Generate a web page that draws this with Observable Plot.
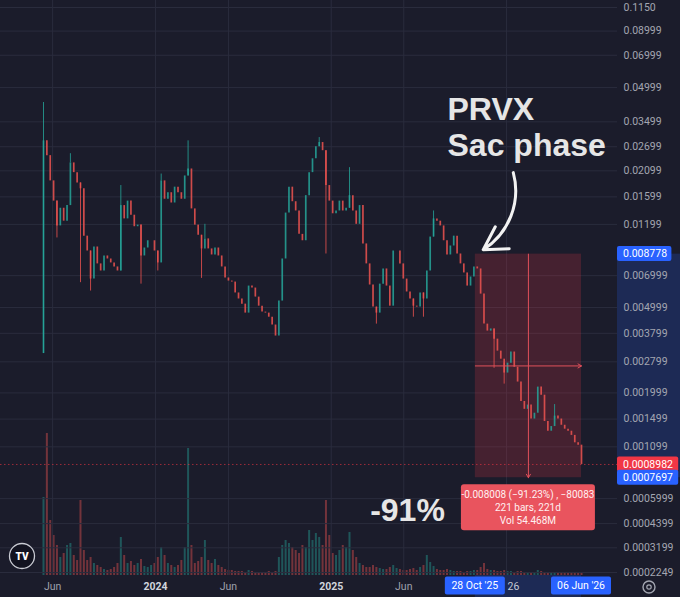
<!DOCTYPE html>
<html><head><meta charset="utf-8">
<script src="https://cdn.jsdelivr.net/npm/d3@7"></script>
<script src="https://cdn.jsdelivr.net/npm/@observablehq/plot@0.6"></script>
<style>
html,body{margin:0;padding:0;background:#1b1c2b;}
#chart{position:relative;width:680px;height:597px;overflow:hidden;background:#1b1c2b;}
#chart svg{position:absolute;left:0;top:0;}
</style></head><body>
<div id="chart"></div>
<script>
// ---------- data (weekly bars) ----------
const startDate = "2023-05-13";
const endDate = "2026-06-06";
const firstOpen = 0.00306;
const closes = [
0.0287, 0.0246, 0.0189, 0.0153, 0.0118, 0.0142, 0.0124, 0.0146, 0.0228, 0.0206,
0.0185, 0.0174, 0.0106, 0.00907, 0.00675, 0.00946, 0.00792, 0.00735, 0.00861, 0.00834,
0.0080, 0.00767, 0.00735, 0.0146, 0.0127, 0.0153, 0.0132, 0.0117, 0.0119, 0.00861,
0.00936, 0.0101, 0.0101, 0.00907, 0.0080, 0.0189, 0.0156, 0.0167, 0.0150, 0.0177,
0.0167, 0.0156, 0.0199, 0.0214, 0.0141, 0.0119, 0.0107, 0.00927, 0.0103, 0.00927,
0.0087, 0.00936, 0.00861, 0.00767, 0.00683, 0.00661, 0.00654, 0.00583, 0.00547, 0.00518,
0.00471, 0.00627, 0.00614, 0.00558, 0.00507, 0.00476, 0.00471, 0.00451, 0.00415, 0.00369,
0.00535, 0.00834, 0.0135, 0.0177, 0.0152, 0.0138, 0.0108, 0.0101, 0.0162, 0.0206,
0.0238, 0.0270, 0.0282, 0.0259, 0.0180, 0.0153, 0.0134, 0.0138, 0.0153, 0.0138,
0.0142, 0.0162, 0.0138, 0.0120, 0.0146, 0.00977, 0.00792, 0.00634, 0.00502, 0.00471,
0.0064, 0.00751, 0.00627, 0.00507, 0.00907, 0.00907, 0.00792, 0.00675, 0.00589, 0.00547,
0.00507, 0.00502, 0.00583, 0.00547, 0.00735, 0.0105, 0.0127, 0.0124, 0.0118, 0.0101,
0.0087, 0.00956, 0.0106, 0.00879, 0.00792, 0.0072, 0.00627, 0.0069, 0.00767, 0.00751,
0.00576, 0.00419, 0.00389, 0.00398, 0.00357, 0.00314, 0.00288, 0.00248, 0.00276, 0.00311,
0.00264, 0.00225, 0.00182, 0.00167, 0.00175, 0.00150, 0.0016, 0.00213, 0.00195, 0.00146,
0.00131, 0.00138, 0.00155, 0.00150, 0.0014, 0.00134, 0.00131, 0.00125, 0.00115, 0.00112,
0.0008982
];
const volumes = [
78, 142, 55, 40, 30, 18, 22, 30, 32, 20,
15, 75, 25, 15, 18, 12, 10, 8, 6, 5,
6, 8, 12, 38, 20, 12, 14, 10, 12, 16,
9, 8, 10, 12, 18, 28, 20, 12, 10, 8,
10, 15, 28, 127, 30, 12, 14, 18, 35, 15,
12, 16, 10, 8, 6, 5, 5, 4, 4, 4,
3, 5, 4, 3, 3, 3, 3, 4, 3, 4,
18, 30, 35, 32, 28, 25, 22, 30, 28, 45,
35, 42, 38, 30, 75, 40, 22, 20, 25, 30,
28, 43, 25, 18, 12, 10, 8, 8, 10, 8,
7, 6, 6, 8, 10, 7, 6, 5, 5, 6,
7, 5, 8, 10, 20, 13, 9, 6, 5, 5,
6, 5, 4, 4, 4, 3, 4, 4, 5, 5,
8, 12, 6, 5, 5, 4, 4, 5, 4, 4,
3, 4, 4, 3, 3, 3, 3, 5, 4, 3,
3, 3, 3, 2, 2, 2, 2, 2, 2, 2,
3
];
const wickIdx = [0, 4, 8, 11, 14, 23, 29, 34, 35, 43, 47, 48, 82, 84, 91, 99, 110, 113, 116, 134, 137, 152];
const wickHi  = [0.0428, 0.0153, 0.0251, 0.0185, 0.00907, 0.0180, 0.0119, 0.00907, 0.0203, 0.0287, 0.0107, 0.0120, 0.0297, 0.0259, 0.0217, 0.00502, 0.00547, 0.00583, 0.0138, 0.00398, 0.00276, 0.00176];
const wickLo  = [0.00306, 0.0104, 0.0228, 0.0065, 0.00595, 0.00735, 0.0064, 0.00735, 0.0189, 0.0199, 0.0068, 0.0103, 0.0270, 0.00879, 0.0142, 0.00419, 0.00451, 0.00451, 0.0105, 0.00261, 0.0022, 0.0015];

const priceTicks = [0.1150, 0.08999, 0.06999, 0.04999, 0.03499, 0.02699, 0.02099, 0.01599, 0.01199, 0.006999, 0.004999, 0.003799, 0.002799, 0.001999, 0.001499, 0.001099, 0.0005999, 0.0004399, 0.0003199, 0.0002249];
const priceTickLabels = ["0.1150", "0.08999", "0.06999", "0.04999", "0.03499", "0.02699", "0.02099", "0.01599", "0.01199", "0.006999", "0.004999", "0.003799", "0.002799", "0.001999", "0.001499", "0.001099", "0.0005999", "0.0004399", "0.0003199", "0.0002249"];
const monthTicks = ["2023-06-01", "2024-06-01", "2025-06-01"];
const monthTickLabels = ["Jun", "Jun", "Jun"];
const yearTicks = ["2024-01-01", "2025-01-01"];
const yearTickLabels = ["2024", "2025"];
const partialYearTick = "2026-01-01";
const partialYearLabel = "26"; // only the visible tail of "2026" shows past the date flag

const measureStart = "2025-10-28";
const measureEnd = "2026-06-06";
const measureFrom = 0.008778;
const measureTo = 0.0007697;
const measureLines = ["-0.008008 (\u221291.23%) , \u221280083", "221 bars, 221d", "Vol 54.468M"];
const dateFlags = ["28 Oct '25", "06 Jun '26"];
const lastPrice = 0.0008982;
const flagPrices = [0.008778, 0.0008982, 0.0007697];
const flagLabels = ["0.008778", "0.0008982", "0.0007697"];
const flagColors = ["#2962ff", "#f23645", "#2962ff"];
const titleLines = ["PRVX", "Sac phase"];
const pctLabel = "-91%";
const arrowFromDate = "2026-01-15";
const arrowFromPrice = 0.0206;

// ---------- derived tables ----------
const teal = "#26a69a", red = "#ef5350";
const t0 = new Date(startDate);
const bars = closes.map((c, i) => {
  const open = i === 0 ? firstOpen : closes[i - 1];
  return {date: d3.utcDay.offset(t0, 7 * i), open, close: c, vol: volumes[i], up: c >= open};
});
const wicks = wickIdx.map((k, j) => ({date: bars[k].date, hi: wickHi[j], lo: wickLo[j], up: bars[k].up}));
const priceLabelMap = new Map(priceTicks.map((p, i) => [p, priceTickLabels[i]]));
const mDates = monthTicks.map(d => new Date(d));
const yDates = yearTicks.map(d => new Date(d));
const pDate = new Date(partialYearTick);
const monthMap = new Map(mDates.map((d, i) => [+d, monthTickLabels[i]]));
const yearMap = new Map(yDates.map((d, i) => [+d, yearTickLabels[i]]));
const gridDates = [...mDates, ...yDates, pDate];
const mStart = new Date(measureStart), mEnd = new Date(measureEnd);
const mMid = new Date((+mStart + +mEnd) / 2);
const C = 0.0001;
const midPrice = C * (Math.exp((Math.log1p(measureFrom / C) + Math.log1p(measureTo / C)) / 2) - 1);
const measure = [{start: mStart, end: mEnd, mid: mMid, from: measureFrom, to: measureTo, midPrice}];

const W = 680, H = 597, MR = 63, MB = 22;
const xScale = {type: "utc", domain: [new Date(startDate), new Date(endDate)], range: [43, 581]};
const font = "Roboto, 'Liberation Sans', Arial, sans-serif";

// ---------- custom layers using Plot scales ----------
const priceBand = (index, scales, values, dim) => {
  const g = d3.create("svg:g");
  const x0 = dim.width - dim.marginRight;
  const ya = scales.y(measureFrom), yb = scales.y(measureTo);
  g.append("rect").attr("x", x0).attr("y", ya).attr("width", dim.width - x0).attr("height", yb - ya)
    .attr("fill", "#2962ff").attr("fill-opacity", 0.2);
  return g.node();
};
const timeBand = (index, scales, values, dim) => {
  const g = d3.create("svg:g");
  const xa = scales.x(mStart), xb = scales.x(mEnd);
  const y0 = dim.height - dim.marginBottom;
  g.append("rect").attr("x", xa).attr("y", y0).attr("width", xb - xa).attr("height", dim.marginBottom)
    .attr("fill", "#2962ff").attr("fill-opacity", 0.2);
  return g.node();
};
const flags = (index, scales, values, dim) => {
  const g = d3.create("svg:g").attr("font-family", font).attr("font-size", 10.5);
  const x0 = dim.width - dim.marginRight;
  flagPrices.forEach((p, i) => {
    const y = scales.y(p);
    const w = flagLabels[i].length * 6.8;
    g.append("rect").attr("x", x0).attr("y", y - 7.5).attr("width", w).attr("height", 15).attr("rx", 2).attr("fill", flagColors[i]);
    g.append("text").attr("x", x0 + 6).attr("y", y).attr("dy", "0.35em").attr("text-anchor", "start").attr("fill", "#ffffff").text(flagLabels[i]);
  });
  const y0 = dim.height - dim.marginBottom;
  [mStart, mEnd].forEach((d, i) => {
    const x = scales.x(d);
    g.append("rect").attr("x", x - 30).attr("y", y0 + 1.5).attr("width", 60).attr("height", 18).attr("rx", 2).attr("fill", "#2962ff");
    g.append("text").attr("x", x).attr("y", y0 + 10.5).attr("dy", "0.35em").attr("text-anchor", "middle").attr("fill", "#ffffff").text(dateFlags[i]);
  });
  return g.node();
};
const infoBox = (index, scales, values, dim) => {
  const g = d3.create("svg:g").attr("font-family", font).attr("font-size", 10);
  const cx = scales.x(mMid), top = scales.y(measureTo) + 7;
  g.append("rect").attr("x", cx - 67).attr("y", top).attr("width", 134).attr("height", 46).attr("rx", 3)
    .attr("fill", "#e9545e");
  measureLines.forEach((t, i) => {
    g.append("text").attr("x", cx).attr("y", top + 10 + 13 * i).attr("dy", "0.35em").attr("text-anchor", "middle")
      .attr("fill", "#fff0f1").text(t);
  });
  return g.node();
};
const chrome = (index, scales, values, dim) => {
  const g = d3.create("svg:g");
  const lx = dim.marginLeft + 22, ly = dim.height - dim.marginBottom - 19;
  g.append("circle").attr("cx", lx).attr("cy", ly).attr("r", 12.5).attr("fill", "#121320").attr("stroke", "#c9cbd3").attr("stroke-width", 1.3);
  g.append("text").attr("x", lx).attr("y", ly).attr("dy", "0.35em").attr("text-anchor", "middle").attr("fill", "#ffffff")
    .attr("font-family", font).attr("font-weight", 900).attr("font-size", 10).text("TV");
  const gx = dim.width - dim.marginRight + 32, gy = dim.height - 10;
  g.append("circle").attr("cx", gx).attr("cy", gy).attr("r", 6).attr("fill", "none").attr("stroke", "#a3a6b1").attr("stroke-width", 1.4);
  g.append("circle").attr("cx", gx).attr("cy", gy).attr("r", 2.2).attr("fill", "none").attr("stroke", "#a3a6b1").attr("stroke-width", 1.2);
  return g.node();
};

// ---------- volume pane ----------
const vol = Plot.plot({
  width: W, height: H, marginTop: 0, marginRight: MR, marginBottom: MB, marginLeft: 0,
  style: {background: "transparent"},
  x: {...xScale, axis: null},
  y: {domain: [0, 142], range: [575, 433], axis: null},
  marks: [
    Plot.ruleX(bars, {x: "date", y1: 0, y2: "vol", stroke: d => d.up ? teal : red, strokeOpacity: 0.42, strokeWidth: 2})
  ]
});

// ---------- price pane ----------
const main = Plot.plot({
  width: W, height: H, marginTop: 0, marginRight: MR, marginBottom: MB, marginLeft: 0,
  style: {background: "transparent", color: "#9ea1ab", fontFamily: font, fontSize: "10.5px", overflow: "visible"},
  x: xScale,
  y: {type: "symlog", constant: C, domain: [0.0002249, 0.1150], range: [572, 7]},
  marks: [
    Plot.gridY(priceTicks, {stroke: "#2a2c3d", strokeOpacity: 1}),
    Plot.gridX(gridDates, {stroke: "#2a2c3d", strokeOpacity: 1}),
    priceBand,
    timeBand,
    Plot.rect(measure, {x1: "start", x2: "end", y1: "to", y2: "from", fill: "#f23645", fillOpacity: 0.2}),
    Plot.ruleX(wicks, {x: "date", y1: "lo", y2: "hi", stroke: d => d.up ? teal : red, strokeWidth: 1, strokeOpacity: 0.8}),
    Plot.ruleX(bars, {x: "date", y1: "open", y2: "close", stroke: d => d.up ? teal : red, strokeWidth: 1.7, strokeOpacity: 0.85}),
    Plot.ruleY([lastPrice], {stroke: "#f23645", strokeOpacity: 0.6, strokeDasharray: "1.5,2.5"}),
    Plot.arrow(measure, {x1: "mid", x2: "mid", y1: "from", y2: "to", stroke: "#e0505b", strokeWidth: 1, headLength: 6}),
    Plot.arrow(measure, {x1: "start", x2: "end", y1: "midPrice", y2: "midPrice", stroke: "#e0505b", strokeWidth: 1, headLength: 6}),
    Plot.axisY(priceTicks, {anchor: "right", tickSize: 0, tickPadding: 6, tickFormat: d => priceLabelMap.get(d), fill: "#a3a6b1"}),
    Plot.axisX(mDates, {anchor: "bottom", tickSize: 0, tickPadding: 7, tickFormat: d => monthMap.get(+d), fill: "#9ea1ab"}),
    Plot.axisX(yDates, {anchor: "bottom", tickSize: 0, tickPadding: 7, tickFormat: d => yearMap.get(+d), fill: "#d1d4dc", fontWeight: 700}),
    Plot.axisX([pDate], {anchor: "bottom", tickSize: 0, tickPadding: 7, tickFormat: () => partialYearLabel, textAnchor: "start", dx: 1, fill: "#c4c8d4"}),
    flags,
    infoBox,
    Plot.arrow([{x1: new Date(arrowFromDate), y1: arrowFromPrice, x2: mStart, y2: measureFrom}],
      {x1: "x1", y1: "y1", x2: "x2", y2: "y2", bend: 40, stroke: "#f2f2f2", strokeWidth: 3, headLength: 13, insetEnd: 9}),
    Plot.text([titleLines.join("\n")], {text: d => d, frameAnchor: "top-left", dx: 447, dy: 94, lineAnchor: "top", lineHeight: 1.125,
      textAnchor: "start", fontSize: 32, fontWeight: 700, fill: "#e6e6e6", fontFamily: "'Liberation Sans', Arial, sans-serif"}),
    Plot.text([pctLabel], {text: d => d, frameAnchor: "top-left", dx: 407, dy: 510, lineAnchor: "middle",
      textAnchor: "middle", fontSize: 32, fontWeight: 700, fill: "#e6e6e6", fontFamily: "'Liberation Sans', Arial, sans-serif"}),
    chrome
  ]
});

const root = document.getElementById("chart");
root.appendChild(vol);
root.appendChild(main);
</script>
</body></html>
